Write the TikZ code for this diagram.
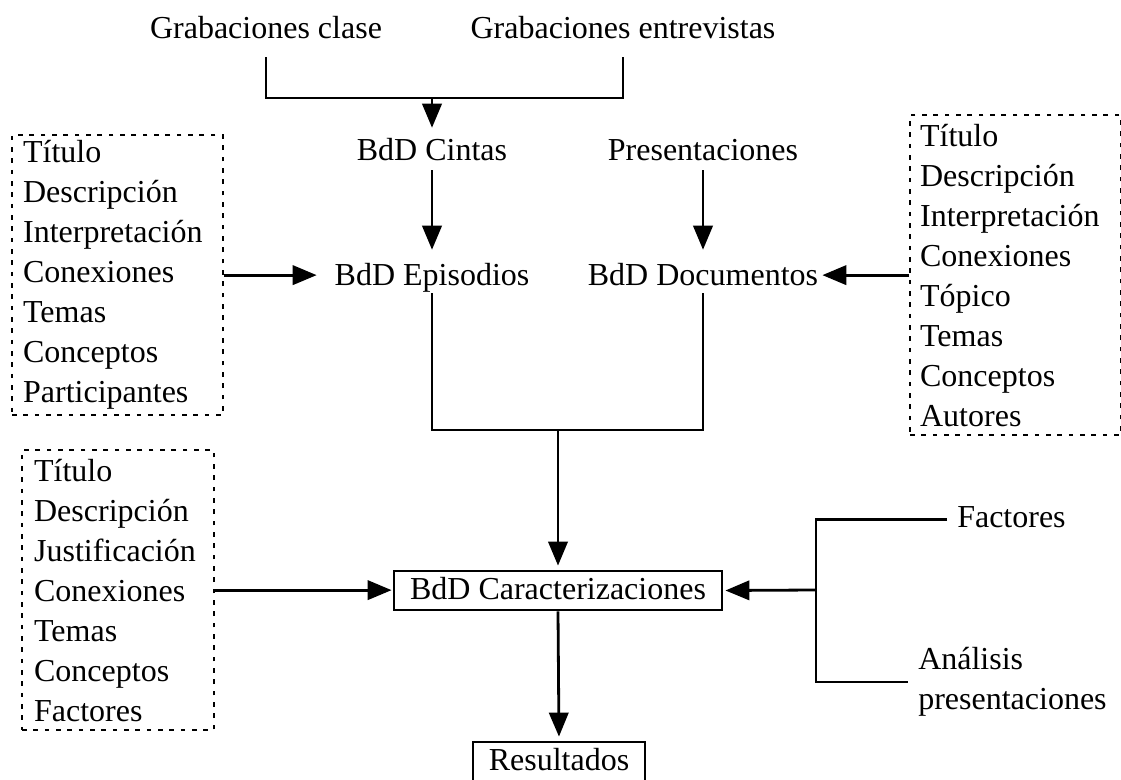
\documentclass[tikz,border=0pt]{standalone}
\usepackage{fontspec}
\setmainfont{Liberation Serif}
\usetikzlibrary{arrows.meta}
\begin{document}
\begin{tikzpicture}[x=0.75pt,y=-0.75pt,
  font=\fontsize{24}{30}\selectfont,
  ln/.style={line width=2.1pt},
  arr/.style={ln,-{Triangle[length=18pt,width=14.5pt]}},
  txt/.style={inner sep=0pt,text height=16.5pt,text depth=5.25pt,anchor=base},
  dbox/.style={draw,line width=1.7pt,dash pattern=on 3.5pt off 5pt,anchor=north west,align=left,inner ysep=0pt,minimum height=210pt},
  sbox/.style={draw,line width=2.1pt,inner sep=0pt,text height=19pt,text depth=5pt,minimum height=29.25pt}]
\useasboundingbox (0,0) rectangle (1121,780);
\node[txt] (gc) at (266,39) {Grabaciones clase};
\node[txt] (ge) at (623,39) {Grabaciones entrevistas};
\coordinate (j1) at (432,98);
\node[txt] (cin) at (432,161) {BdD Cintas};
\node[txt] (pre) at (703,161) {Presentaciones};
\node[txt] (epi) at (432,286) {BdD Episodios};
\node[txt] (doc) at (703,286) {BdD Documentos};
\coordinate (j2) at (558,430);
\node[sbox,minimum width=246pt] (car) at (558,590.5) {BdD Caracterizaciones};
\node[sbox,minimum width=129pt] (res) at (559,761.5) {Resultados};
\node[dbox,text width=141.75pt,inner xsep=8.25pt] (b1) at (11,134)
  {Título\\Descripción\\Interpretación\\Conexiones\\Temas\\Conceptos\\Participantes};
\node[dbox,text width=143.25pt,inner xsep=7.5pt,minimum height=240pt] (b3) at (909,114)
  {Título\\Descripción\\Interpretación\\Conexiones\\Tópico\\Temas\\Conceptos\\Autores};
\node[dbox,text width=126pt,inner xsep=9pt] (b2) at (21,449)
  {Título\\Descripción\\Justificación\\Conexiones\\Temas\\Conceptos\\Factores};
\node[txt,anchor=base west] (fac) at (957,527) {Factores};
\node[inner sep=0pt,anchor=west,align=left] (ana) at (918,682) {Análisis\\presentaciones};
\coordinate (j3) at (816,590);

\draw[ln,shorten <=8.25pt,shorten >=8.25pt] (gc.south) |- (j1) -| (ge.south);
\draw[arr,shorten >=8.25pt] (j1) -- (cin.north);
\draw[arr,shorten <=1.5pt,shorten >=10.5pt] (cin.south) -- (epi.north);
\draw[arr,shorten <=1.5pt,shorten >=10.5pt] (pre.south) -- (doc.north);
\draw[ln] (epi.south) |- (j2) -| (doc.south);
\draw[arr,shorten >=3pt] (j2) -- (car.north);
\draw[arr,shorten >=3pt] (car.south) -- (res.north);
\draw[arr,shorten >=13.3pt] (b1.east) -- (b1.east -| epi.west);
\draw[arr,shorten >=3pt] (b3.west) -- (b3.west -| doc.east);
\draw[arr,shorten >=0.75pt] (b2.east) -- (b2.east -| car.west);
\draw[ln,shorten <=7.5pt] (fac.west) -| (j3);
\draw[ln,shorten >=7.5pt] (j3) |- (ana.west);
\draw[arr,shorten >=1.5pt] (j3) -- (car.east);
\end{tikzpicture}
\end{document}
